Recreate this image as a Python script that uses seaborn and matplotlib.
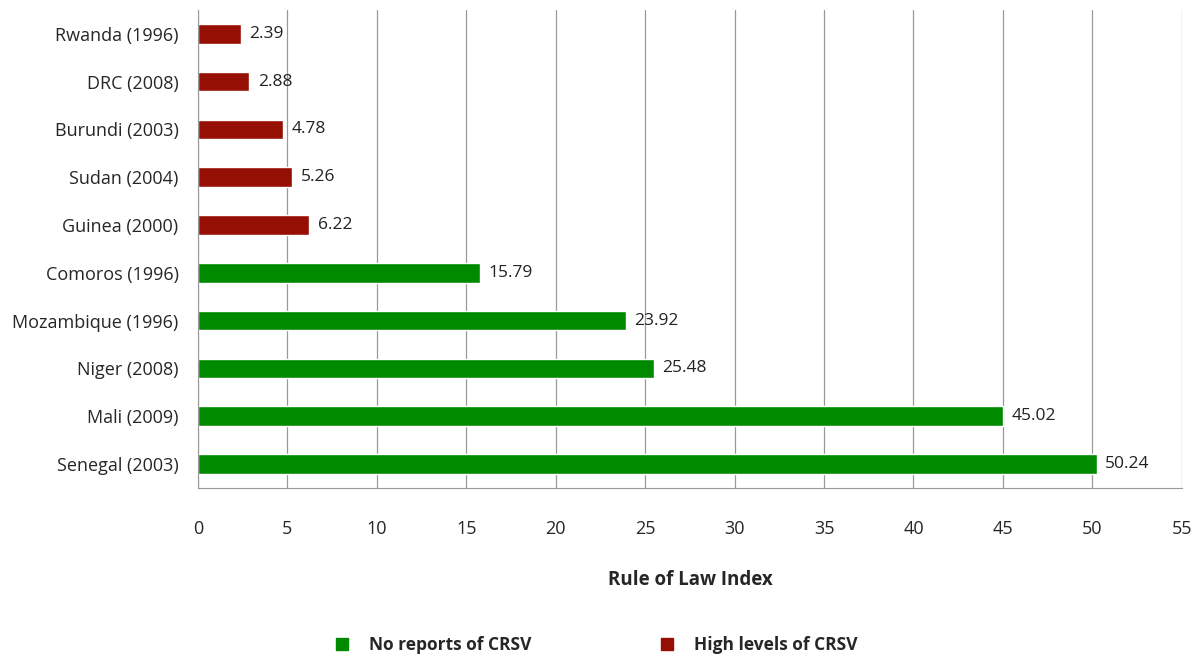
import pandas as pd
import seaborn as sns
import matplotlib.pyplot as plt
from matplotlib.lines import Line2D
from matplotlib.ticker import FixedLocator

countries = ['Rwanda (1996)', 'DRC (2008)', 'Burundi (2003)', 'Sudan (2004)', 'Guinea (2000)',
             'Comoros (1996)', 'Mozambique (1996)', 'Niger (2008)', 'Mali (2009)', 'Senegal (2003)']
values = [2.39, 2.88, 4.78, 5.26, 6.22, 15.79, 23.92, 25.48, 45.02, 50.24]
groups = ['High levels of CRSV'] * 5 + ['No reports of CRSV'] * 5

df = pd.DataFrame({'country': countries, 'value': values, 'group': groups})
palette = {'No reports of CRSV': '#008a00', 'High levels of CRSV': '#960f05'}

sns.set_style('white')
plt.rcParams['font.family'] = ['Open Sans', 'DejaVu Sans']

fig = plt.figure(figsize=(11.94, 6.59), dpi=100)
ax = fig.add_axes([0.1658, 0.2595, 0.824, 0.7255])

sns.barplot(data=df, y='country', x='value', hue='group', palette=palette,
            dodge=False, width=0.41, orient='h', legend=False, saturation=1, ax=ax)

for c in ax.containers:
    ax.bar_label(c, fmt='%.2f', padding=6, fontsize=12.5, color='#222222')

ax.set_xlim(0, 55)
ax.set_xticks(range(0, 56, 5))
ax.set_ylim(len(countries) - 0.5, -0.5)
ax.grid(axis='x', color='#999999', linewidth=0.9)
ax.set_axisbelow(True)
for s in ['top', 'right']:
    ax.spines[s].set_visible(False)
for s in ['left', 'bottom']:
    ax.spines[s].set_color('#999999')
ax.tick_params(axis='y', which='major', length=0, labelsize=13, pad=14)
ax.yaxis.set_minor_locator(FixedLocator([i + 0.5 for i in range(-1, len(countries))]))
ax.tick_params(axis='y', which='minor', length=5, color='#999999', direction='out')
ax.tick_params(axis='x', length=5, color='#999999', labelsize=13, pad=18)
ax.set_ylabel('')
ax.set_xlabel('Rule of Law Index', fontsize=13.5, fontweight='bold', labelpad=23)

handles = [Line2D([], [], marker='s', linestyle='', color=palette[g], markersize=8)
           for g in ['No reports of CRSV', 'High levels of CRSV']]
fig.legend(handles, ['No reports of CRSV', 'High levels of CRSV'], loc='center',
           bbox_to_anchor=(0.495, 0.021), ncol=2, frameon=False, columnspacing=6.8,
           handletextpad=0.55, prop={'weight': 'bold', 'size': 12.5})

fig.savefig('out.png', dpi=100)
